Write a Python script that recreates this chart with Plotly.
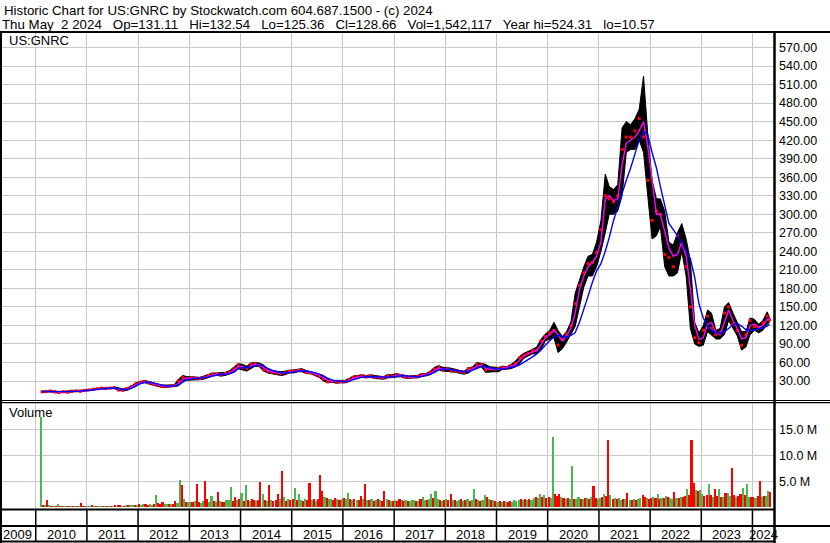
import pandas as pd
import plotly.graph_objects as go

W, H = 830, 543

# ---------------- data (monthly, Feb 2010 .. May 2024) ----------------
close = [
    12.5, 13.0, 13.8, 12.6, 11.5, 12.5, 12.0, 13.6, 14.0, 13.5, 14.8,
    15.5, 16.5, 17.5, 18.5, 18.2, 18.5, 19.0, 15.5, 15.0, 18.0, 21.0, 25.0,
    28.0, 29.0, 27.0, 25.0, 23.0, 21.5, 21.0, 22.0, 22.5, 30.0, 36.0, 34.0,
    35, 34, 34, 36, 39, 41, 41, 40, 42, 44, 50, 56,
    52, 50, 57, 58, 55, 48, 46, 44, 43, 42, 43, 46,
    46, 47, 47, 44, 43, 41, 38, 33, 29, 30, 28, 29,
    29, 32, 36, 37, 38, 37, 38, 36, 36, 35, 38, 37,
    40, 39, 37, 36, 37, 37, 40, 40, 44, 49, 52, 48,
    50, 46, 46, 45, 44, 50, 50, 57, 56, 48, 50, 49,
    50, 52, 51, 55, 58, 68, 72, 75, 79, 80, 95, 102,
    108, 112, 88, 97, 106, 120, 155, 185, 205, 220, 222, 238,
    275, 330, 325, 320, 330, 405, 425, 425, 435, 455, 425, 355,
    290, 305, 300, 235, 230, 215, 265, 250, 215, 150, 100, 92,
    112, 135, 115, 105, 108, 140, 150, 122, 112, 88, 105, 128,
    118, 116, 124, 135, 129,
]
high = [
    14.0, 14.0, 15.0, 14.0, 13.0, 13.5, 13.0, 14.0, 15.0, 15.0, 15.5,
    16.0, 17.5, 18.5, 19.5, 19.5, 19.5, 20.0, 19.0, 17.0, 19.0, 22.0, 27.0,
    29.5, 31, 29.5, 27, 25.5, 23.5, 23, 23.5, 24, 33, 39, 37,
    37, 36, 36, 38, 41, 43, 43, 43, 44, 47, 53, 58,
    57, 54, 59, 60, 59, 56, 49, 47, 46, 45, 46, 48,
    48, 49, 50, 47, 45, 44, 42, 39, 34, 31, 31, 31,
    31, 34, 38, 39, 40, 39, 40, 39, 38, 37, 40, 40,
    42, 41, 40, 38, 39, 39, 42, 42, 46, 52, 55, 52,
    52, 51, 49, 47, 46, 51, 53, 60, 58, 57, 53, 52,
    52, 54, 53, 57, 62, 70, 75, 78, 82, 85, 98, 106,
    112, 125, 112, 102, 110, 126, 172, 195, 215, 232, 235, 255,
    290, 365, 345, 340, 348, 440, 450, 445, 455, 470, 524, 430,
    355, 325, 325, 305, 255, 250, 270, 285, 260, 225, 125, 108,
    120, 145, 140, 112, 115, 150, 157, 140, 125, 110, 110, 132,
    130, 122, 128, 142, 133,
]
low = [
    11.5, 12.0, 12.5, 11.0, 10.6, 11.5, 11.0, 12.0, 13.0, 12.5, 13.5,
    14.5, 15.5, 16.5, 17.5, 17.0, 17.5, 18.0, 14.5, 14.0, 15.0, 18.0, 21.0,
    25.5, 27.5, 25.5, 23.5, 21.5, 20, 19.5, 20.5, 21, 22, 31, 31,
    32, 32, 32, 33, 36, 38, 39, 38, 39, 41, 44, 50,
    48, 46, 50, 54, 53, 46, 43, 42, 40, 39, 40, 43,
    43, 45, 45, 42, 42, 39, 36, 30, 27, 28, 26.5, 27,
    27, 29, 33, 35, 36, 35, 36, 34, 34, 33, 35, 35.5,
    37, 37, 35, 34, 35, 35, 37, 38, 40, 44, 48, 46,
    46, 45, 44, 43, 41, 43, 48, 50, 53, 44, 45, 45,
    45, 49, 49, 50, 53, 58, 67, 70, 74, 74, 80, 95,
    98, 100, 76, 82, 93, 105, 118, 150, 182, 200, 200, 215,
    240, 270, 300, 300, 305, 330, 400, 405, 405, 420, 400, 330,
    260, 265, 280, 215, 200, 200, 205, 240, 200, 115, 90, 86,
    88, 110, 105, 98, 98, 105, 128, 115, 103, 80, 85, 105,
    112, 108, 112, 122, 125,
]
ma_short = [
    12.8, 12.9, 13.4, 13.0, 12.0, 12.2, 12.3, 13.0, 13.8, 13.7, 14.3,
    15.2, 16.2, 17.2, 18.2, 18.3, 18.4, 18.8, 16.5, 15.3, 17.0, 20.0, 23.8,
    27.0, 28.5, 27.5, 25.8, 23.8, 22.3, 21.3, 21.7, 22.2, 26.0, 33.0, 34.5,
    34.5, 34.3, 34.0, 35.0, 37.8, 40.0, 41.0, 40.5, 41.2, 43.0, 47.5, 53.5,
    53.5, 51, 54, 57, 56, 51, 47, 45, 43.5, 42.5, 42.5, 44.5,
    46, 46.5, 47, 45, 43.5, 42, 39, 35, 31, 30, 29, 28.8,
    29, 31, 34.5, 36.5, 37.5, 37.2, 37.5, 36.5, 36, 35.3, 37, 37.3,
    39, 39.3, 38, 36.5, 36.6, 36.9, 38.5, 40, 42.5, 47, 51, 49.5,
    49.5, 48, 46.5, 45.5, 44.5, 47, 49.5, 54, 56, 51, 49, 49.5,
    49, 51, 51.5, 53.5, 56.5, 64, 70.5, 74, 77, 79.5, 89, 100,
    105, 112, 105, 95, 103, 116, 140, 178, 200, 215, 222, 232,
    255, 325, 330, 322, 325, 380, 415, 420, 425, 435, 450, 410,
    350, 300, 300, 270, 245, 232, 235, 255, 232, 180, 120, 97,
    100, 122, 125, 108, 105, 125, 145, 128, 115, 98, 100, 120,
    122, 117, 120, 130, 130,
]
ma_long = [
    12.8, 12.8, 13.1, 13.1, 12.6, 12.3, 12.3, 12.6, 13.2, 13.6, 14.0,
    14.6, 15.5, 16.5, 17.4, 18.0, 18.3, 18.6, 17.5, 16.0, 16.4, 18.5, 22.0,
    25.5, 27.5, 28.0, 27.0, 25.0, 23.2, 22.0, 21.8, 22.0, 23.5, 28.5, 32.5,
    33.5, 34.0, 34.0, 34.5, 36.0, 38.5, 40.0, 40.5, 41.0, 42.0, 44.5, 49.5,
    52, 51.5, 52.5, 55, 56, 54, 50.5, 47, 45, 43.5, 42.5, 43.5,
    45, 46, 46.5, 46, 45, 43.5, 41.5, 38, 34, 31.5, 30, 29.3,
    29, 29.8, 32, 34.5, 36.3, 37, 37.3, 37, 36.5, 36, 36.3, 37,
    38, 39, 39, 37.8, 37, 36.8, 37.5, 38.8, 41, 44, 48, 49.5,
    49.3, 48.5, 47, 46, 45, 45.5, 47.5, 51, 54, 53, 51, 49.5,
    50, 49.5, 50.5, 51.5, 53.5, 56, 60, 64, 69, 74, 80, 88,
    95, 102, 104, 103, 101, 104, 108, 125, 145, 167, 190, 208,
    220, 240, 262, 290, 312, 335, 355, 375, 400, 420, 434, 429,
    400, 375, 345, 312, 285, 275, 266, 255, 240, 228, 198, 155,
    132, 118, 112, 108, 107, 110, 115, 121, 123, 119, 113, 112,
    113, 114, 116, 119, 122,
]

# volume in millions, half-monthly, Feb 2010 .. early May 2024
volume = [
    17.5, 0.4, 0.3, 1.4, 0.3, 0.2, 0.25, 0.2, 0.6, 0.2, 0.15, 0.1, 0.2, 0.15, 0.1, 0.2, 0.15, 0.1, 0.15, 0.7, 0.2, 0.15,
    0.2, 0.15, 0.3, 0.2, 0.15, 0.1, 0.2, 0.15, 0.25, 0.2, 0.15, 0.2, 0.2, 0.3, 0.4, 0.3, 0.25, 0.2, 0.3, 0.35, 0.3, 0.4, 0.35, 0.3,
    0.5, 0.4, 0.6, 0.5, 0.4, 0.5, 0.4, 0.6, 2.3, 0.8, 0.6, 1.0, 0.5, 0.5, 0.6, 0.5, 0.6, 1.2, 0.8, 5.2, 4.2, 1.5, 1.0, 0.9,
    1.0, 0.9, 1.2, 4.4, 1.0, 0.8, 1.2, 5.0, 1.5, 1.0, 2.1, 1.2, 1.0, 2.9, 1.1, 0.9, 1.0, 1.4, 1.3, 3.8, 1.2, 1.9, 1.3, 1.5,
    2.8, 1.2, 4.2, 1.3, 1.2, 1.5, 1.4, 1.2, 1.3, 4.8, 2.5, 1.3, 1.2, 4.2, 1.4, 1.2, 1.3, 2.5, 1.6, 6.9, 2.0, 1.2, 1.5, 1.3,
    1.5, 3.6, 1.4, 2.5, 1.3, 1.2, 1.5, 1.4, 4.6, 1.3, 1.5, 1.2, 1.6, 6.2, 3.0, 2.0, 1.8, 1.5, 1.6, 1.4, 1.7, 1.5, 1.3, 1.6,
    1.8, 1.5, 2.8, 1.6, 1.4, 1.5, 1.3, 1.4, 2.2, 1.5, 4.5, 1.3, 1.4, 1.5, 1.2, 1.3, 1.6, 1.4, 1.2, 3.0, 1.5, 1.4, 1.2, 1.1,
    1.3, 1.2, 1.5, 1.4, 1.2, 1.3, 1.1, 1.2, 1.4, 1.3, 1.2, 1.1, 1.5, 2.0, 1.3, 1.4, 1.6, 2.5, 1.8, 3.0, 1.5, 1.4, 1.2, 1.3,
    1.5, 1.4, 2.5, 1.3, 1.4, 1.2, 1.3, 1.6, 1.2, 1.3, 1.5, 1.2, 1.4, 3.5, 1.6, 1.3, 1.2, 1.4, 2.4, 1.9, 1.5, 1.3, 1.4, 1.2,
    1.0, 1.2, 0.9, 1.1, 1.0, 0.9, 1.2, 1.0, 1.4, 1.2, 1.3, 1.5, 1.4, 1.6, 1.3, 1.5, 1.4, 1.8, 2.0, 1.7, 2.5, 2.0, 2.3, 1.8,
    2.0, 1.8, 13.5, 2.5, 2.2, 2.6, 2.0, 1.8, 1.6, 1.7, 1.5, 7.9, 1.6, 1.5, 2.0, 1.6, 1.5, 1.7, 1.8, 1.5, 2.0, 4.0, 1.8, 1.6,
    1.8, 2.0, 2.5, 2.2, 13.0, 2.4, 1.6, 1.8, 1.5, 1.7, 1.4, 1.6, 1.5, 2.7, 1.4, 1.3, 1.5, 1.4, 1.6, 1.8, 2.4, 1.9, 1.8, 1.6,
    1.8, 2.0, 1.7, 2.5, 1.6, 1.8, 1.7, 2.1, 1.9, 1.7, 1.6, 2.9, 1.8, 1.7, 2.0, 1.9, 2.2, 3.5, 2.4, 12.9, 4.6, 3.3, 3.0, 3.2,
    2.5, 2.2, 2.4, 4.4, 2.3, 2.0, 3.5, 2.1, 3.5, 1.9, 2.0, 2.8, 2.7, 2.2, 7.5, 2.3, 2.0, 2.2, 2.5, 3.6, 2.4, 4.4, 2.0, 1.9,
    2.0, 1.8, 2.2, 5.0, 1.9, 2.1, 2.2, 3.0, 2.9,
]
# g = up period, r = down period (one string per year)
volume_dir_by_year = [
    "grgrgrgrgrrggrgrgrgrrg",
    "ggrgrggrgrgrgrrrgrgrggrg",
    "rggrrggrgrrrggrgrrggrgrg",
    "grgrrggrrggrgrgrrgggrrgr",
    "grgrgrrgrrgrgrgrrrgrgrgr",
    "rgrggrgrrgrgrrrgrggrrgrg",
    "rggrgrgrrgrgrgrgrgrrgrgr",
    "grrgrgrgggrgrggrggrggrgr",
    "grrgrggrgrgrggrgrggrgrgr",
    "grgrgrrggggrgrgrggrggrgr",
    "rggrrrgrgrggrggrgrgrgrrg",
    "grgrrgrgrggrgrgrgrggrrgr",
    "rgrgrgrgrggrgrgrrgrrrgrg",
    "grrgrgrrgrgrggrrgrrgrggr",
    "rgrrgrggr",
]
price_ticks = list(range(30, 571, 30))
volume_ticks = [5, 10, 15]
volume_tick_text = ["5.0 M", "10.0 M", "15.0 M"]
year_labels = list(range(2009, 2025))

header_1 = "Historic Chart for US:GNRC by Stockwatch.com 604.687.1500 - (c) 2024"
header_2 = ("Thu May\u00a0 2 2024\u00a0\u00a0 Op=131.11\u00a0\u00a0 Hi=132.54\u00a0\u00a0 Lo=125.36\u00a0\u00a0 "
            "Cl=128.66\u00a0\u00a0 Vol=1,542,117\u00a0\u00a0 Year hi=524.31\u00a0\u00a0 lo=10.57")

# ---------------- dates ----------------
volume_dir = "".join(volume_dir_by_year)
month_starts = pd.date_range("2010-02-01", "2024-05-01", freq="MS")
month_dates = list(month_starts + pd.Timedelta(days=14))
month_dates[-1] = pd.Timestamp("2024-05-02")
vol_dates = []
for m in month_starts:
    vol_dates += [m + pd.Timedelta(days=7), m + pd.Timedelta(days=22)]
n = min(len(volume), len(volume_dir), len(vol_dates))
vol_dates = vol_dates[:n]
vol_colors = ["#4cb54c" if c == "g" else "#ff0000" for c in volume_dir[:n]]

x_start = pd.Timestamp("2009-04-21")
x_end = pd.Timestamp("2024-06-02 17:00")

FONT = "Arial, 'Liberation Sans', sans-serif"

def py(px):
    return 1 - px / H

fig = go.Figure()
fig.add_trace(go.Scatter(x=month_dates, y=low, mode="lines", line=dict(color="black", width=1),
                         xaxis="x", yaxis="y", showlegend=False, hoverinfo="skip"))
fig.add_trace(go.Scatter(x=month_dates, y=high, mode="lines", line=dict(color="black", width=1),
                         fill="tonexty", fillcolor="black",
                         xaxis="x", yaxis="y", showlegend=False, hoverinfo="skip"))
fig.add_trace(go.Scatter(x=month_dates, y=close, mode="markers",
                         marker=dict(color="#ff0000", size=3, symbol="square"),
                         xaxis="x", yaxis="y", showlegend=False))
fig.add_trace(go.Scatter(x=month_dates, y=ma_short, mode="lines", line=dict(color="#ff00ff", width=1.4),
                         xaxis="x", yaxis="y", showlegend=False))
fig.add_trace(go.Scatter(x=month_dates, y=ma_long, mode="lines", line=dict(color="#0000ff", width=1.4),
                         xaxis="x", yaxis="y", showlegend=False))
fig.add_trace(go.Bar(x=vol_dates, y=volume[:n], marker=dict(color=vol_colors, line=dict(width=0)),
                     width=15 * 86400000, xaxis="x2", yaxis="y2", showlegend=False))

grid = "#c8c8c8"
xcommon = dict(type="date", range=[x_start, x_end], domain=[0, 774 / W], showgrid=True,
               gridcolor=grid, gridwidth=1, dtick="M12", tick0="2010-01-01",
               showticklabels=False, ticks="", zeroline=False, showline=False)
fig.update_layout(
    width=W, height=H, autosize=False,
    margin=dict(l=0, r=0, t=0, b=0),
    paper_bgcolor="white", plot_bgcolor="white",
    font=dict(family=FONT, color="black"),
    bargap=0,
    hovermode=False,
    xaxis=dict(anchor="y", **xcommon),
    xaxis2=dict(anchor="y2", matches="x", **xcommon),
    yaxis=dict(domain=[py(400), py(33)], range=[-0.76, 593.5], side="right", anchor="x",
               tickmode="array", tickvals=price_ticks, tickformat=".2f",
               showgrid=True, gridcolor=grid, zeroline=False, showline=False, ticks="",
               tickfont=dict(size=12.5, family=FONT, color="black"), ticklabelstandoff=4),
    yaxis2=dict(domain=[py(509), py(403)], range=[-0.39, 20.12], side="right", anchor="x2",
                tickmode="array", tickvals=volume_ticks, ticktext=volume_tick_text,
                showgrid=True, gridcolor=grid, zeroline=False, showline=False, ticks="",
                tickfont=dict(size=12.5, family=FONT, color="black"), ticklabelstandoff=4),
)

shapes = []
def hline(ypx, x0, x1, w):
    shapes.append(dict(type="line", xref="paper", yref="paper", x0=x0 / W, x1=x1 / W,
                       y0=py(ypx), y1=py(ypx), line=dict(color="black", width=w), layer="above"))
def vline(xpx, y0, y1, w):
    shapes.append(dict(type="line", xref="paper", yref="paper", x0=xpx / W, x1=xpx / W,
                       y0=py(y0), y1=py(y1), line=dict(color="black", width=w), layer="above"))

hline(32, 0, W, 2)
hline(400.5, 0, W, 1.2)
hline(402.7, 0, W, 1.2)
hline(509.5, 0, 774, 2)
hline(526, 0, W, 2)
hline(541.5, 0, 774, 2)
vline(1, 31, H, 2)
vline(774.5, 31, H, 2.5)
for yr in range(2010, 2025):
    shapes.append(dict(type="line", xref="x", yref="paper", x0=pd.Timestamp(f"{yr}-01-01"),
                       x1=pd.Timestamp(f"{yr}-01-01"), y0=py(510), y1=py(541),
                       line=dict(color="black", width=1.5), layer="above"))
fig.update_layout(shapes=shapes)

ann = []
for yr in year_labels:
    a = max(pd.Timestamp(f"{yr}-01-01"), x_start)
    b = min(pd.Timestamp(f"{yr + 1}-01-01"), x_end)
    ann.append(dict(x=a + (b - a) / 2, y=py(534.5), xref="x", yref="paper", text=str(yr),
                    showarrow=False, xanchor="center", yanchor="middle",
                    font=dict(size=13, family=FONT, color="black")))
ann.append(dict(x=2 / W, y=py(1), xref="paper", yref="paper", text=header_1, showarrow=False,
                xanchor="left", yanchor="top", font=dict(size=13.3, family=FONT, color="black")))
ann.append(dict(x=0 / W, y=py(15), xref="paper", yref="paper", text=header_2, showarrow=False,
                xanchor="left", yanchor="top", font=dict(size=13.3, family=FONT, color="black")))
ann.append(dict(x=7 / W, y=py(40.5), xref="paper", yref="paper", text="US:GNRC", showarrow=False,
                xanchor="left", yanchor="middle", font=dict(size=13, family=FONT, color="black")))
ann.append(dict(x=7 / W, y=py(413), xref="paper", yref="paper", text="Volume", showarrow=False,
                xanchor="left", yanchor="middle", font=dict(size=13, family=FONT, color="black")))
fig.update_layout(annotations=ann)

fig.write_html("out.html", config={"displayModeBar": False, "staticPlot": True},
               post_script="document.body.style.margin='0';document.body.style.overflow='hidden';")
